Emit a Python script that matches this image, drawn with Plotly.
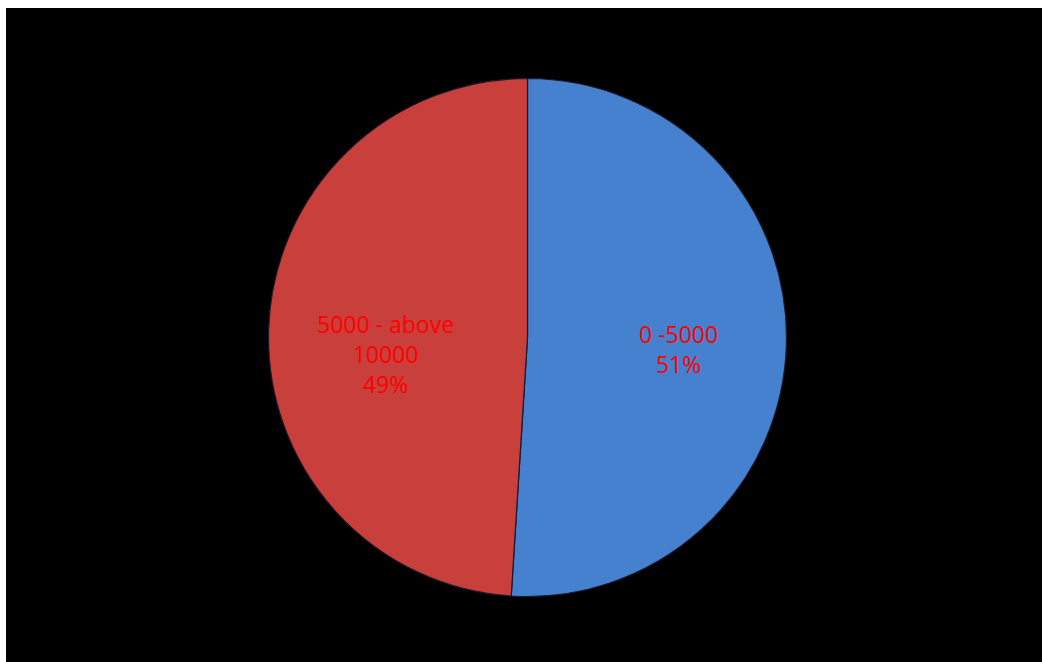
import plotly.graph_objects as go

# Income bands and their shares
categories = ["0 -5000", "5000 - above<br>10000"]
shares = [51, 49]
colors = ["#4581cf", "#c83f3c"]

W, H = 1042, 662
cx, cy, r = 527.5, 337.5, 259.0

# Label anchor points (pixels) inside each slice
label_xy = [(678, 349), (385, 354)]

fig = go.Figure(
    go.Pie(
        labels=categories,
        values=shares,
        sort=False,
        direction="clockwise",
        rotation=0,
        marker=dict(colors=colors, line=dict(color="#1a1a2a", width=1.2)),
        textinfo="none",
        showlegend=False,
        hoverinfo="label+percent",
        domain=dict(
            x=[(cx - r) / W, (cx + r) / W],
            y=[(H - cy - r) / H, (H - cy + r) / H],
        ),
    )
)

total = sum(shares)
annotations = []
for cat, val, (px, py) in zip(categories, shares, label_xy):
    annotations.append(
        dict(
            x=px / W, y=1 - py / H, xref="paper", yref="paper",
            text=f"{cat}<br>{round(100 * val / total)}%",
            showarrow=False, xanchor="center", yanchor="middle",
            font=dict(family="Open Sans, Liberation Sans, sans-serif", size=23, color="#ff0000"),
        )
    )

fig.update_layout(
    width=W,
    height=H,
    margin=dict(l=0, r=0, t=0, b=0),
    paper_bgcolor="white",
    plot_bgcolor="white",
    annotations=annotations,
    shapes=[
        dict(
            type="rect", xref="paper", yref="paper",
            x0=6 / W, x1=1, y0=0, y1=1 - 8 / H,
            fillcolor="black", line=dict(width=0), layer="below",
        )
    ],
)

fig.write_html("out.html")
